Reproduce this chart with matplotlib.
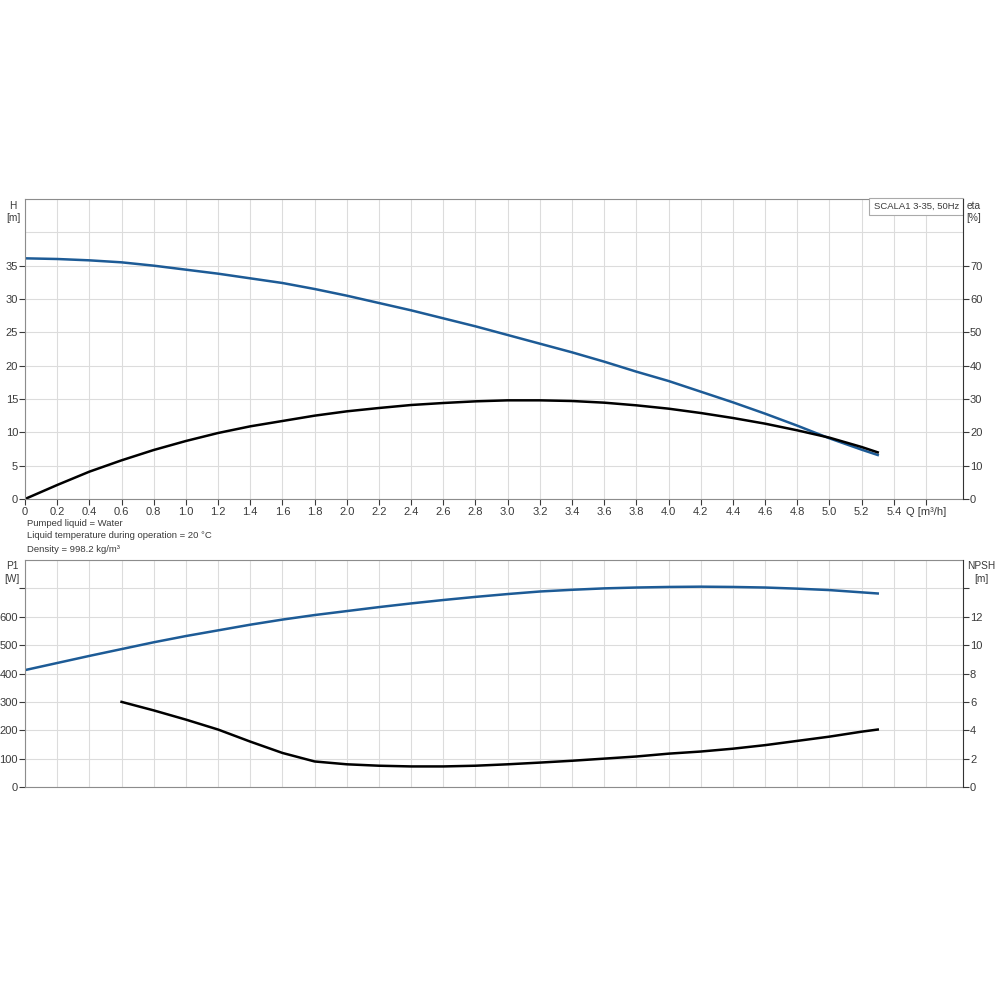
import numpy as np
import matplotlib
matplotlib.use('Agg')
import matplotlib.pyplot as plt

# pump curves (SCALA1 3-35, 50Hz)
q = [0.0, 0.2, 0.4, 0.6, 0.8, 1.0, 1.2, 1.4, 1.6, 1.8, 2.0, 2.2, 2.4, 2.6,
     2.8, 3.0, 3.2, 3.4, 3.6, 3.8, 4.0, 4.2, 4.4, 4.6, 4.8, 5.0, 5.2, 5.3]
head = [36.1, 36.0, 35.8, 35.5, 35.0, 34.4, 33.8, 33.1, 32.4, 31.5, 30.5, 29.4,
        28.3, 27.1, 25.9, 24.6, 23.3, 22.0, 20.6, 19.1, 17.7, 16.1, 14.5, 12.8,
        11.0, 9.1, 7.4, 6.6]
eta = [0.0, 4.2, 8.2, 11.6, 14.7, 17.4, 19.8, 21.8, 23.4, 25.0, 26.3, 27.3,
       28.2, 28.8, 29.3, 29.6, 29.6, 29.4, 28.9, 28.1, 27.1, 25.8, 24.3, 22.6,
       20.6, 18.4, 15.6, 14.0]
p1 = [412, 437, 462, 486, 510, 532, 552, 572, 590, 606, 620, 634, 647, 659,
      670, 680, 689, 695, 700, 703, 705, 706, 705, 703, 699, 694, 686, 682]

q_npsh = [0.6, 0.8, 1.0, 1.2, 1.4, 1.6, 1.8, 2.0, 2.2, 2.4, 2.6, 2.8, 3.0,
          3.2, 3.4, 3.6, 3.8, 4.0, 4.2, 4.4, 4.6, 4.8, 5.0, 5.2, 5.3]
npsh = [6.0, 5.4, 4.75, 4.05, 3.2, 2.4, 1.8, 1.6, 1.5, 1.45, 1.45, 1.5, 1.6,
        1.72, 1.85, 2.0, 2.15, 2.35, 2.5, 2.7, 2.95, 3.25, 3.55, 3.9, 4.05]

q_ticks = [round(0.2 * i, 1) for i in range(29)]
q_labels = ['0'] + ['%.1f' % t for t in q_ticks[1:-1]] + ['Q [m³/h]']

blue = '#1d5b96'
grid_c = '#dcdcdc'
txt_c = '#3a3a3a'
fs = 8
fs_small = 6.8
fs_name = 7.3

plt.rcParams['font.family'] = ['Liberation Sans', 'DejaVu Sans']

fig = plt.figure(figsize=(10, 10), dpi=100)
ax1 = fig.add_axes([0.025, 0.501, 0.938, 0.300])
ax2 = fig.add_axes([0.025, 0.213, 0.938, 0.227])


def style(ax, yt, labels, yt_minor, ylim):
    ax.set_xlim(0, 5.83)
    ax.set_ylim(*ylim)
    ax.set_xticks(q_ticks)
    ax.set_yticks(yt)
    ax.set_yticklabels(labels)
    ax.set_yticks(yt_minor, minor=True)
    ax.grid(True, which='both', color=grid_c, lw=0.8)
    ax.set_axisbelow(True)
    for s in ['top', 'bottom', 'left']:
        ax.spines[s].set_color('#8c8c8c')
    ax.spines['right'].set_visible(False)
    ax.tick_params(axis='both', labelsize=fs, colors=txt_c, length=4,
                   width=0.8, pad=1)
    ax.tick_params(axis='y', which='minor', length=0)


def right_axis(ax, ylim, yt, labels):
    axr = ax.twinx()
    axr.set_ylim(*ylim)
    axr.set_yticks(yt)
    axr.set_yticklabels(labels)
    for s in ['top', 'bottom', 'left']:
        axr.spines[s].set_visible(False)
    axr.spines['right'].set_color('#333333')
    axr.tick_params(axis='y', labelsize=fs, colors=txt_c, length=4, width=0.8, pad=1)
    return axr


# top: head + efficiency
h_ticks = list(range(0, 40, 5))
style(ax1, h_ticks, [str(v) for v in h_ticks], [40, 45], (0, 45))
ax1.set_xticklabels(q_labels)
ax1.tick_params(axis='x', pad=2)
ax1.plot(q, head, color=blue, lw=1.8)
ax1.plot(np.array(q), np.array(eta) / 2.0, color='black', lw=1.8)
eta_ticks = list(range(0, 80, 10))
right_axis(ax1, (0, 90), eta_ticks, [str(v) for v in eta_ticks])

ax1.text(-0.0128, 0.995, 'H\n[m]', transform=ax1.transAxes, ha='center', va='top',
         fontsize=fs_name, color=txt_c, linespacing=1.3)
ax1.text(1.0117, 0.995, 'eta\n[%]', transform=ax1.transAxes, ha='center', va='top',
         fontsize=fs_name, color=txt_c, linespacing=1.3)
ax1.text(0.9955, 0.99, 'SCALA1 3-35, 50Hz', transform=ax1.transAxes, ha='right',
         va='top', fontsize=fs_small, color=txt_c,
         bbox=dict(boxstyle='square,pad=0.45', fc='white', ec='#aaaaaa', lw=0.8))

fig.text(0.027, 0.477, 'Pumped liquid = Water', fontsize=fs_small, color=txt_c, va='center')
fig.text(0.027, 0.464, 'Liquid temperature during operation = 20 °C', fontsize=fs_small,
         color=txt_c, va='center')
fig.text(0.027, 0.451, 'Density = 998.2 kg/m³', fontsize=fs_small, color=txt_c, va='center')

# bottom: power + NPSH
p_ticks = list(range(0, 800, 100))
style(ax2, p_ticks, [str(v) if v <= 600 else '' for v in p_ticks], [800], (0, 800))
ax2.tick_params(axis='x', length=0, labelbottom=False)
ax2.plot(q, p1, color=blue, lw=1.8)
ax2.plot(np.array(q_npsh), np.array(npsh) * 50.0, color='black', lw=1.8)
n_ticks = list(range(0, 16, 2))
right_axis(ax2, (0, 16), n_ticks, [str(v) if v <= 12 else '' for v in n_ticks])

ax2.text(-0.0139, 0.995, 'P1\n[W]', transform=ax2.transAxes, ha='center', va='top',
         fontsize=fs_name, color=txt_c, linespacing=1.3)
ax2.text(1.0192, 0.995, 'NPSH\n[m]', transform=ax2.transAxes, ha='center', va='top',
         fontsize=fs_name, color=txt_c, linespacing=1.3)

fig.savefig('out.png', dpi=100, facecolor='white')
